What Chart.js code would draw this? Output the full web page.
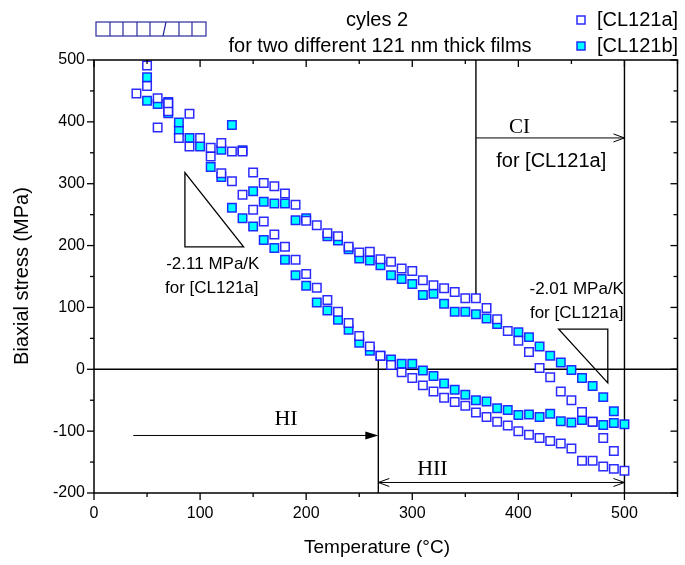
<!DOCTYPE html>
<html>
<head>
<meta charset="UTF-8">
<title>Biaxial stress vs temperature</title>
<script src="https://cdn.jsdelivr.net/npm/chart.js"></script>
<style>
  body{margin:0;background:#fff;}
</style>
</head>
<body>
<canvas id="c" width="685" height="565"></canvas>
<script>
// [CL121a] heating (lower branch) and cooling (upper branch)
const aHeatT = [40, 50, 60, 70, 80, 90, 110, 120, 130, 140, 150, 160, 170, 180, 190, 200, 210, 220, 230, 240, 250, 260, 270, 280, 290, 300, 310, 320, 330, 340, 350, 360, 370, 380, 390, 400, 410, 420, 430, 440, 450, 460, 470, 480, 490, 500];
const aHeatS = [446, 458, 438, 417, 374, 360, 344, 317, 304, 282, 258, 239, 218, 198, 177, 154, 132, 112, 93, 75, 54, 37, 22, 7, -5, -14, -26, -36, -46, -53, -59, -70, -77, -85, -91, -100, -106, -111, -116, -120, -128, -148, -148, -157, -161, -164];
const aCoolT = [490, 480, 470, 460, 450, 440, 430, 420, 410, 400, 390, 380, 370, 360, 350, 340, 330, 320, 310, 300, 290, 280, 270, 260, 250, 240, 230, 220, 210, 200, 190, 180, 170, 160, 150, 140, 130, 120, 110, 100, 90, 70, 60, 50];
const aCoolS = [-132, -111, -85, -69, -50, -36, -13, 2, 28, 46, 62, 81, 99, 115, 115, 125, 131, 136, 144, 159, 163, 174, 178, 190, 189, 198, 215, 220, 233, 240, 266, 284, 296, 301, 318, 352, 352, 366, 358, 374, 413, 430, 391, 491];

// [CL121b]
const bHeatT = [50, 60, 70, 80, 90, 100, 110, 120, 130, 140, 150, 160, 170, 180, 190, 200, 210, 220, 230, 240, 250, 260, 270, 280, 290, 300, 310, 320, 330, 340, 350, 360, 370, 380, 390, 400, 410, 420, 430, 440, 450, 460, 470, 480, 490, 500];
const bHeatS = [434, 429, 414, 386, 374, 360, 327, 311, 261, 244, 231, 209, 196, 177, 152, 135, 108, 95, 80, 64, 43, 30, 22, 16, 9, 9, -2, -11, -23, -33, -41, -50, -52, -63, -66, -74, -73, -77, -72, -84, -86, -82, -85, -90, -87, -89];
const bCoolT = [490, 480, 470, 460, 450, 440, 430, 420, 410, 400, 380, 370, 360, 350, 340, 330, 320, 310, 300, 290, 280, 270, 260, 250, 240, 230, 220, 200, 190, 180, 170, 160, 150, 140, 130, 120, 80, 70, 50];
const bCoolS = [-68, -45, -27, -14, -1, 11, 22, 37, 52, 60, 73, 82, 89, 93, 93, 106, 122, 120, 138, 146, 152, 168, 176, 179, 194, 208, 215, 244, 241, 268, 268, 271, 288, 354, 395, 355, 399, 432, 472];

const xTicks = [0, 100, 200, 300, 400, 500];
const yTicks = [-200, -100, 0, 100, 200, 300, 400, 500];

const SANS = '"Liberation Sans", Arial, sans-serif';
const SERIF = '"Liberation Serif", "Times New Roman", serif';
const BLUE = 'rgba(20,20,255,0.9)';

const pts = (t, s) => t.map((v, i) => ({x: v, y: s[i]}));

function line(ctx, x1, y1, x2, y2) {
  ctx.beginPath(); ctx.moveTo(x1, y1); ctx.lineTo(x2, y2); ctx.stroke();
}
function openHead(ctx, x, y, dir) {
  ctx.beginPath();
  ctx.moveTo(x - dir * 11, y - 4); ctx.lineTo(x, y); ctx.lineTo(x - dir * 11, y + 4);
  ctx.stroke();
}
function text(ctx, s, x, y, font, align) {
  ctx.font = font; ctx.textAlign = align || 'center'; ctx.textBaseline = 'middle';
  ctx.fillText(s, x, y);
}

const deco = {
  id: 'deco',
  beforeDatasetsDraw(chart) {
    const {ctx, scales: {x, y}} = chart;
    const X = v => x.getPixelForValue(v), Y = v => y.getPixelForValue(v);
    ctx.save();
    ctx.strokeStyle = '#000'; ctx.lineWidth = 1.4;
    line(ctx, X(0), Y(0), X(550), Y(0));
    line(ctx, X(500), Y(500), X(500), Y(-200));
    line(ctx, X(360), Y(500), X(360), Y(118));
    line(ctx, X(268), Y(22), X(268), Y(-200));
    ctx.lineWidth = 1;
    // CI arrow
    line(ctx, X(360), Y(374), X(500), Y(374));
    openHead(ctx, X(500), Y(374), 1);
    // HI arrow
    line(ctx, X(37), Y(-107), X(268) - 8, Y(-107));
    ctx.fillStyle = '#000';
    ctx.beginPath();
    ctx.moveTo(X(268), Y(-107)); ctx.lineTo(X(268) - 13, Y(-107) - 4); ctx.lineTo(X(268) - 13, Y(-107) + 4);
    ctx.closePath(); ctx.fill();
    // HII arrow
    line(ctx, X(268), Y(-183), X(500), Y(-183));
    openHead(ctx, X(500), Y(-183), 1);
    openHead(ctx, X(268), Y(-183), -1);
    // slope triangles
    ctx.lineWidth = 1.3;
    ctx.beginPath();
    ctx.moveTo(X(85.7), Y(318)); ctx.lineTo(X(85.7), Y(198)); ctx.lineTo(X(141), Y(198)); ctx.closePath();
    ctx.stroke();
    ctx.beginPath();
    ctx.moveTo(X(438), Y(65)); ctx.lineTo(X(484.3), Y(65)); ctx.lineTo(X(484.3), Y(-22)); ctx.closePath();
    ctx.stroke();
    ctx.restore();
  },
  afterDraw(chart) {
    const {ctx, chartArea: a, scales: {x, y}} = chart;
    const X = v => x.getPixelForValue(v), Y = v => y.getPixelForValue(v);
    ctx.save();
    ctx.strokeStyle = '#000'; ctx.fillStyle = '#000';
    // frame
    ctx.lineWidth = 1.5;
    ctx.strokeRect(a.left, a.top, a.right - a.left, a.bottom - a.top);
    // ticks
    ctx.lineWidth = 1.3;
    for (let v = 0; v <= 550; v += 50) {
      const L = v % 100 === 0 ? 7 : 4, px = X(v);
      line(ctx, px, a.bottom, px, a.bottom + L);
      line(ctx, px, a.top, px, a.top + L);
    }
    for (let v = -200; v <= 500; v += 50) {
      const L = v % 100 === 0 ? 7 : 4, py = Y(v);
      line(ctx, a.left, py, a.left - L, py);
      line(ctx, a.right, py, a.right - L, py);
    }
    // annotation texts
    text(ctx, 'CI', X(401), Y(391), '21px ' + SERIF);
    text(ctx, 'for [CL121a]', X(431), Y(336), '20px ' + SANS);
    text(ctx, 'HI', X(181), Y(-80), '22px ' + SERIF);
    text(ctx, 'HII', X(319), Y(-161), '22px ' + SERIF);
    text(ctx, '-2.11 MPa/K', X(112), Y(170), '17px ' + SANS);
    text(ctx, 'for [CL121a]', X(111), Y(131), '17px ' + SANS);
    text(ctx, '-2.01 MPa/K', X(455), Y(130), '17px ' + SANS);
    text(ctx, 'for [CL121a]', X(455), Y(91), '17px ' + SANS);
    // header
    text(ctx, 'cyles 2', 377, 20, '20px ' + SANS);
    text(ctx, 'for two different 121 nm thick films', 380, 46, '20px ' + SANS);
    // legend
    ctx.lineWidth = 1.5; ctx.strokeStyle = BLUE;
    ctx.fillStyle = '#fff';
    ctx.fillRect(577, 16, 8, 8); ctx.strokeRect(577, 16, 8, 8);
    ctx.fillStyle = '#00ffff';
    ctx.fillRect(577, 42, 8, 8); ctx.strokeRect(577, 42, 8, 8);
    ctx.fillStyle = '#000';
    text(ctx, '[CL121a]', 597, 20, '20px ' + SANS, 'left');
    text(ctx, '[CL121b]', 597, 46, '20px ' + SANS, 'left');
    // garbled legend symbol box
    ctx.strokeStyle = '#2a2aa0'; ctx.lineWidth = 1.2;
    ctx.strokeRect(96, 22, 110, 14);
    [110, 123, 137, 150, 179, 192].forEach(px => line(ctx, px, 22, px, 36));
    line(ctx, 166, 22, 163, 36);
    // axis titles
    ctx.fillStyle = '#000';
    text(ctx, 'Temperature (°C)', 377, 548, '19px ' + SANS);
    ctx.translate(22, 276); ctx.rotate(-Math.PI / 2);
    text(ctx, 'Biaxial stress (MPa)', 0, 0, '20px ' + SANS);
    ctx.restore();
  }
};

new Chart(document.getElementById('c'), {
  type: 'scatter',
  data: {
    datasets: [
      {
        label: '[CL121a]',
        data: pts(aHeatT, aHeatS).concat(pts(aCoolT, aCoolS)),
        pointStyle: 'rect', pointRadius: 6, pointHoverRadius: 6,
        borderColor: BLUE, backgroundColor: '#fff', borderWidth: 1.5
      },
      {
        label: '[CL121b]',
        data: pts(bHeatT, bHeatS).concat(pts(bCoolT, bCoolS)),
        pointStyle: 'rect', pointRadius: 6, pointHoverRadius: 6,
        borderColor: BLUE, backgroundColor: '#00ffff', borderWidth: 1.5
      }
    ]
  },
  options: {
    responsive: false, animation: false, devicePixelRatio: 1,
    layout: {padding: {top: 60, right: 5, left: 0, bottom: 0}},
    plugins: {legend: {display: false}, tooltip: {enabled: false}},
    scales: {
      x: {
        type: 'linear', min: 0, max: 550,
        afterBuildTicks: s => { s.ticks = xTicks.map(v => ({value: v})); },
        afterFit: s => { s.height = 72; },
        grid: {display: false, drawTicks: false}, border: {display: false},
        ticks: {color: '#000', font: {family: SANS, size: 16}, padding: 11}
      },
      y: {
        type: 'linear', min: -200, max: 500,
        afterBuildTicks: s => { s.ticks = yTicks.map(v => ({value: v})); },
        afterFit: s => { s.width = 94; },
        grid: {display: false, drawTicks: false}, border: {display: false},
        ticks: {color: '#000', font: {family: SANS, size: 16}, padding: 9}
      }
    }
  },
  plugins: [deco]
});
</script>
</body>
</html>
